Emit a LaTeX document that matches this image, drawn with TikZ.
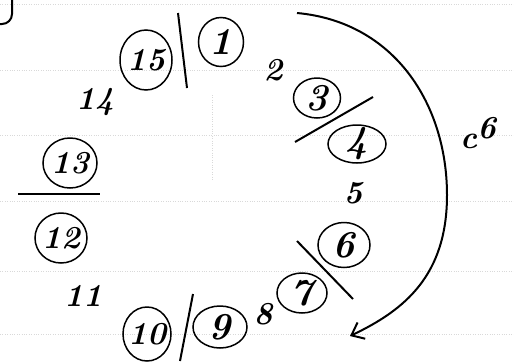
\documentclass[tikz,border=0pt]{standalone}
\usepackage{fontspec}
\usepackage{tikz}
\usetikzlibrary{arrows.meta,shapes.geometric}
\tikzset{num/.style={draw,ellipse,line width=1.5pt,inner sep=-8pt,font=\fontsize{38}{40}\selectfont\itshape\bfseries},
  numtwo/.style={num,font=\fontsize{32}{34}\selectfont\itshape\bfseries},
  lbl/.style={font=\fontsize{32}{34}\selectfont\itshape\bfseries}}

\begin{document}
\begin{tikzpicture}[x=1pt,y=-1pt,line width=2pt]
  \useasboundingbox (0,0) rectangle (514,362);
  % ruled paper
  \foreach \y in {4,70,135,201,271,334} \draw[gray!30,thin,dotted] (0,\y) -- (514,\y);
  \draw[gray!30,thin,dotted] (212,95) -- (212,180);
  \draw (12,0) -- (12,14) to[out=-90,in=0] (2,24) -- (0,24);
  % circled places
  \node[numtwo,minimum width=52pt,minimum height=60pt] (n15) at (146,60) {15};
  \node[num,minimum width=45pt,minimum height=49pt] (n1) at (221,42) {1};
  \node[num,minimum width=47pt,minimum height=40pt] (n3) at (317,98) {3};
  \node[num,minimum width=58pt,minimum height=38pt] (n4) at (357,144) {4};
  \node[numtwo,minimum width=54pt,minimum height=50pt] (n13) at (70,163) {13};
  \node[numtwo,minimum width=52pt,minimum height=50pt] (n12) at (61,238) {12};
  \node[num,minimum width=52pt,minimum height=45pt] (n6) at (344,245) {6};
  \node[num,minimum width=50pt,minimum height=40pt] (n7) at (302,293) {7};
  \node[numtwo,minimum width=48pt,minimum height=54pt] (n10) at (147,334) {10};
  \node[num,minimum width=54pt,minimum height=42pt] (n9) at (220,327) {9};
  % plain places
  \node[lbl] (n2) at (273,70) {2};
  \node[lbl] (n14) at (95,102) {14};
  \node[lbl] (n5) at (353,193) {5};
  \node[lbl] (n11) at (83,296) {11};
  \node[lbl] (n8) at (263,314) {8};
  \node[lbl] (c6) at (478,133) {c\raisebox{10pt}{6}};
  % dividers
  \draw (178,13) -- (187,88);
  \draw (295,142) -- (373,97);
  \draw (18,194) -- (100,194);
  \draw (297,241) -- (353,299);
  \draw (193,294) -- (180,361);
  % turn
  \coordinate (s) at (297,13);
  \coordinate (m) at (447,195);
  \coordinate (e) at (350,336);
  \draw[-{Straight Barb[length=11pt,width=18pt]}] (s) .. controls (395,22) and (447,105) .. (m)
    .. controls (447,275) and (405,310) .. (e);
\end{tikzpicture}
\end{document}
